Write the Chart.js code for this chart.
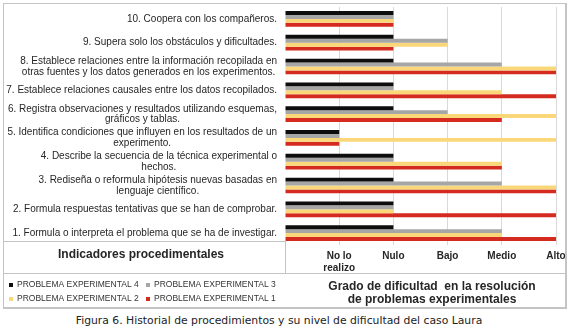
<!DOCTYPE html>
<html>
<head>
<meta charset="utf-8">
<script src="https://cdn.jsdelivr.net/npm/chart.js@4.4.0/dist/chart.umd.min.js"></script>
<style>
  body { margin: 0; background: #fff; }
  #wrap { position: relative; width: 572px; height: 335px; }
  #chart { position: absolute; left: 0; top: 0; }
  #caption { position: absolute; left: 0; top: 314px; width: 558px; text-align: center;
             font-family: 'DejaVu Sans'; font-size: 10.8px; color: #222; }
</style>
</head>
<body>
<div id="wrap">
  <canvas id="chart" width="572" height="312"></canvas>
  <div id="caption">Figura 6. Historial de procedimientos y su nivel de dificultad del caso Laura</div>
</div>
<script>
// Indicadores (de arriba hacia abajo)
const indicadores = [
    ['10. Coopera con los compañeros.'],
    ['9. Supera solo los obstáculos y dificultades.'],
    ['8. Establece relaciones entre la información recopilada en', 'otras fuentes y los datos generados en los experimentos.'],
    ['7. Establece relaciones causales entre los datos recopilados.'],
    ['6. Registra observaciones y resultados utilizando esquemas,', 'gráficos y tablas.'],
    ['5. Identifica condiciones que influyen en los resultados de un', 'experimento.'],
    ['4. Describe la secuencia de la técnica experimental o', 'hechos.'],
    ['3. Rediseña o reformula hipótesis nuevas basadas en', 'lenguaje científico.'],
    ['2. Formula respuestas tentativas que se han de comprobar.'],
    ['1. Formula o interpreta el problema que se ha de investigar.']
];

// Etiquetas del eje de dificultad
const niveles = ['', ['No lo', 'realizo'], 'Nulo', 'Bajo', 'Medio', 'Alto'];

// Valores por problema experimental (0 = origen, 1 = No lo realizo ... 5 = Alto)
const problema4 = [2, 2, 2, 2, 2, 1, 2, 2, 2, 2];
const problema3 = [2, 3, 4, 2, 3, 1, 2, 4, 2, 4];
const problema2 = [2, 3, 5, 4, 5, 5, 4, 5, 2, 4];
const problema1 = [2, 2, 5, 5, 4, 1, 4, 5, 5, 5];

const colores = {
    p4: '#0D0D0D',
    p3: '#A6A6A6',
    p2: '#FAD87A',
    p1: '#D42A1F',
    texto: '#262626',
    borde: '#C4C4C4'
};

const FONT = '"Liberation Sans", Arial, sans-serif';

// Dibuja las etiquetas, la leyenda y las líneas de la tabla
const tabla = {
    id: 'tabla',
    afterDraw(chart) {
        const ctx = chart.ctx;
        const yScale = chart.scales.y;
        ctx.save();

        // etiquetas de indicadores (bloque centrado, alineado a la derecha)
        ctx.font = '10px ' + FONT;
        ctx.fillStyle = colores.texto;
        ctx.textAlign = 'center';
        ctx.textBaseline = 'middle';
        indicadores.forEach((lineas, i) => {
            const w = Math.max(...lineas.map(l => ctx.measureText(l).width));
            const cx = 277 - w / 2;
            const cy = yScale.getPixelForValue(i);
            lineas.forEach((l, k) => {
                ctx.fillText(l, cx, cy + (k - (lineas.length - 1) / 2) * 10.5);
            });
        });

        // bordes de la tabla
        ctx.fillStyle = colores.borde;
        ctx.fillRect(3, 3, 563, 1);
        ctx.fillRect(3, 3, 1, 305);
        ctx.fillRect(565, 3, 2, 306);
        ctx.fillRect(3, 307, 564, 2);
        ctx.fillRect(3, 241, 283, 1);
        ctx.fillRect(285, 241, 1, 33);
        ctx.fillRect(3, 273, 563, 1);

        // título de la izquierda
        ctx.fillStyle = colores.texto;
        ctx.font = 'bold 12px ' + FONT;
        ctx.fillText('Indicadores procedimentales', 141, 255);

        // título del eje
        ctx.fillText('Grado de dificultad  en la resolución', 432, 287);
        ctx.fillText('de problemas experimentales', 432, 300);

        // leyenda
        ctx.font = '8.5px ' + FONT;
        ctx.textAlign = 'left';
        const ds = chart.data.datasets;
        const items = [
            [ds[0], 9, 285], [ds[1], 146, 285],
            [ds[2], 9, 299], [ds[3], 146, 299]
        ];
        items.forEach(([d, x, y]) => {
            ctx.fillStyle = d.backgroundColor;
            ctx.fillRect(x, y - 2, 4, 4);
            ctx.fillStyle = '#333333';
            ctx.fillText(d.label, x + 8, y);
        });

        ctx.restore();
    }
};

new Chart(document.getElementById('chart'), {
    type: 'bar',
    data: {
        labels: indicadores,
        datasets: [
            { label: 'PROBLEMA EXPERIMENTAL 4', data: problema4, backgroundColor: colores.p4 },
            { label: 'PROBLEMA EXPERIMENTAL 3', data: problema3, backgroundColor: colores.p3 },
            { label: 'PROBLEMA EXPERIMENTAL 2', data: problema2, backgroundColor: colores.p2 },
            { label: 'PROBLEMA EXPERIMENTAL 1', data: problema1, backgroundColor: colores.p1 }
        ]
    },
    options: {
        responsive: false,
        animation: false,
        indexAxis: 'y',
        barPercentage: 1,
        categoryPercentage: 0.66,
        layout: { padding: { left: 285, right: 16, top: 7, bottom: 0 } },
        plugins: {
            legend: { display: false },
            tooltip: { enabled: false }
        },
        scales: {
            y: { display: false },
            x: {
                min: 0,
                max: 5,
                grid: {
                    drawTicks: false,
                    color: ctx => (ctx.tick && ctx.tick.value === 0) ? 'rgba(0,0,0,0)' : '#D9D9D9'
                },
                border: { display: false },
                ticks: {
                    stepSize: 1,
                    autoSkip: false,
                    maxRotation: 0,
                    padding: 5,
                    color: colores.texto,
                    font: { family: FONT, size: 10, weight: 'bold' },
                    callback: v => niveles[v]
                },
                afterFit: s => { s.height = 67; }
            }
        }
    },
    plugins: [tabla]
});
</script>
</body>
</html>
